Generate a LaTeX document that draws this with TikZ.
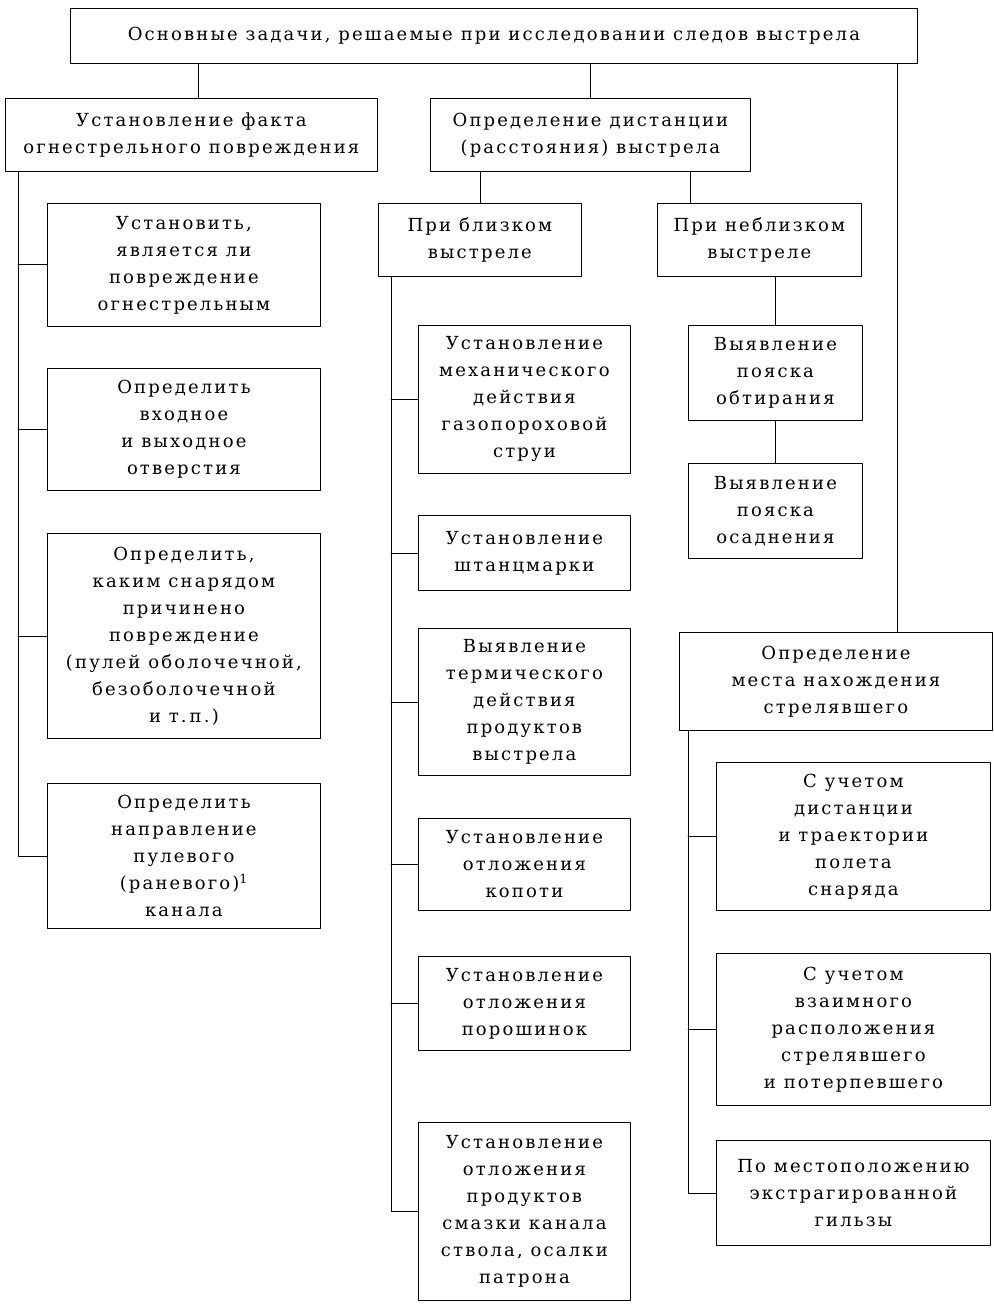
\documentclass[tikz,border=0pt]{standalone}
\usepackage{fontspec}
\setmainfont{DejaVu Serif}[LetterSpace=12]
\begin{document}
\begin{tikzpicture}[x=1pt,y=-1pt,line join=round,line cap=round,line width=0.8pt,
	box/.style={draw,anchor=north west,align=center,inner sep=2pt,font=\fontsize{18}{27}\selectfont}]
	
	\useasboundingbox (0,0) rectangle (993,1305);
	\coordinate (ls) at (18,0);   % левая шина
	\coordinate (ms) at (391,0);  % средняя шина
	\coordinate (rs) at (688,0);  % правая шина
	\coordinate (rt) at (897,0);
	\coordinate (nb) at (690,0);
	
	\node[box,minimum width=847pt,minimum height=55pt] (main) at (70,8) {Основные задачи, решаемые при исследовании следов выстрела};
	
	\node[box,minimum width=372pt,minimum height=73pt] (fakt) at (5,98) {Установление факта\\огнестрельного повреждения};
	\node[box,minimum width=320pt,minimum height=73pt] (dist) at (430,98) {Определение дистанции\\(расстояния) выстрела};
	
	% левая колонка
	\node[box,minimum width=273pt,minimum height=123pt] (l1) at (47,203) {Установить,\\является ли\\повреждение\\огнестрельным};
	\node[box,minimum width=273pt,minimum height=122pt] (l2) at (47,368) {Определить\\входное\\и выходное\\отверстия};
	\node[box,minimum width=273pt,minimum height=205pt] (l3) at (47,533) {Определить,\\каким снарядом\\причинено\\повреждение\\(пулей оболочечной,\\безоболочечной\\и т.\,п.)};
	\node[box,minimum width=273pt,minimum height=145pt] (l4) at (47,783) {Определить\\направление\\пулевого\\(раневого)\textsuperscript{1}\\канала};
	
	% дистанция
	\node[box,minimum width=203pt,minimum height=73pt] (bliz) at (378,203) {При близком\\выстреле};
	\node[box,minimum width=204pt,minimum height=73pt] (nebl) at (657,203) {При неблизком\\выстреле};
	
	\node[box,minimum width=212pt,minimum height=148pt] (m1) at (418,325) {Установление\\механического\\действия\\газопороховой\\струи};
	\node[box,minimum width=212pt,minimum height=75pt] (m2) at (418,515) {Установление\\штанцмарки};
	\node[box,minimum width=212pt,minimum height=147pt] (m3) at (418,628) {Выявление\\термического\\действия\\продуктов\\выстрела};
	\node[box,minimum width=212pt,minimum height=92pt] (m4) at (418,818) {Установление\\отложения\\копоти};
	\node[box,minimum width=212pt,minimum height=94pt] (m5) at (418,956) {Установление\\отложения\\порошинок};
	\node[box,minimum width=212pt,minimum height=178pt] (m6) at (418,1122) {Установление\\отложения\\продуктов\\смазки канала\\ствола, осалки\\патрона};
	
	\node[box,minimum width=174pt,minimum height=95pt] (obt) at (688,325) {Выявление\\пояска\\обтирания};
	\node[box,minimum width=174pt,minimum height=95pt] (osad) at (688,463) {Выявление\\пояска\\осаднения};
	
	% место нахождения
	\node[box,minimum width=313pt,minimum height=98pt] (mesto) at (679,632) {Определение\\места нахождения\\стрелявшего};
	\node[box,minimum width=274pt,minimum height=148pt] (r1) at (716,762) {С учетом\\дистанции\\и траектории\\полета\\снаряда};
	\node[box,minimum width=274pt,minimum height=152pt] (r2) at (716,953) {С учетом\\взаимного\\расположения\\стрелявшего\\и потерпевшего};
	\node[box,minimum width=274pt,minimum height=105pt] (r3) at (716,1140) {По местоположению\\экстрагированной\\гильзы};
	
	% связи
	\draw (main.south -| 198,0) -- (fakt.north -| 198,0);
	\draw (main.south -| dist.north) -- (dist.north);
	\draw (main.south -| rt) -- (mesto.north -| rt);
	\draw (dist.south -| bliz.north) -- (bliz.north);
	\draw (dist.south -| nb) -- (nebl.north -| nb);
	\draw (nebl.south -| obt.north) -- (obt.north);
	\draw (obt.south) -- (osad.north);
	
	\draw (fakt.south -| ls) |- (l4.west);
	\foreach \n in {l1,l2,l3} \draw (ls |- \n.west) -- (\n.west);
	\draw (bliz.south -| ms) |- (m6.west);
	\foreach \n in {m1,m2,m3,m4,m5} \draw (ms |- \n.west) -- (\n.west);
	\draw (mesto.south -| rs) |- (r3.west);
	\foreach \n in {r1,r2} \draw (rs |- \n.west) -- (\n.west);
\end{tikzpicture}
\end{document}
